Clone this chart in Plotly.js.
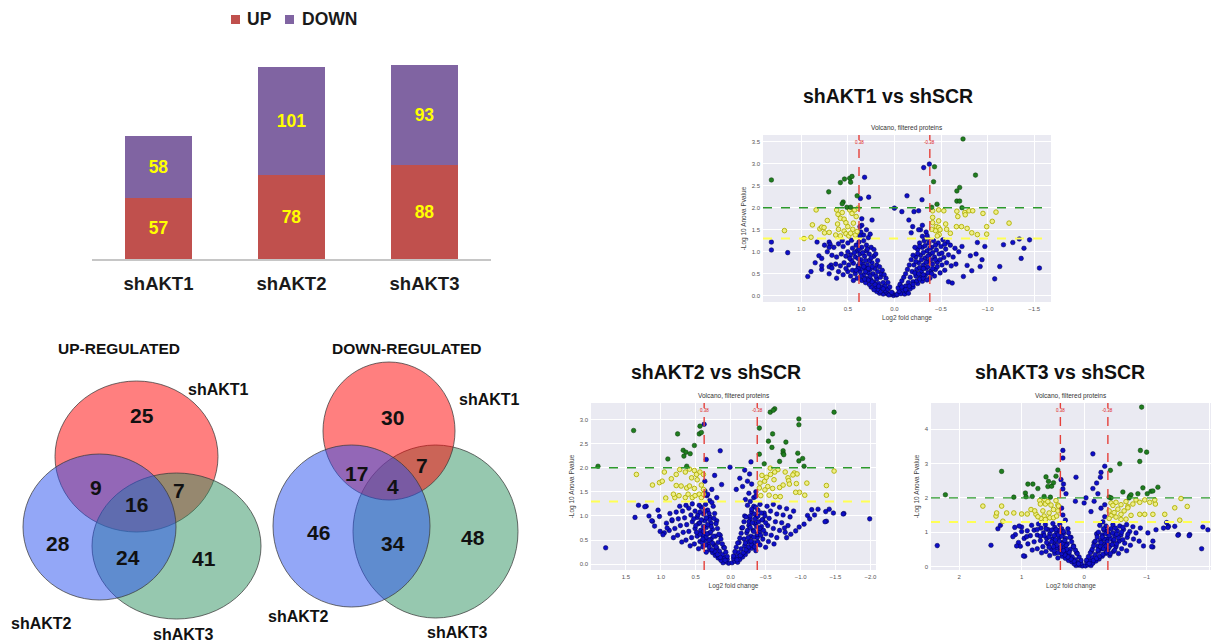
<!DOCTYPE html>
<html><head><meta charset="utf-8">
<script src="https://cdn.plot.ly/plotly-3.0.1.min.js"></script>
<style>html,body{margin:0;padding:0;background:#fff;overflow:hidden}#chart{width:1211px;height:644px}</style>
</head><body><div id="chart"></div>
<script>
// ================= DATA =================
// Stacked bar chart
const barCategories = ['shAKT1','shAKT2','shAKT3'];
const seriesNames = ['UP','DOWN'];
const upCounts = [57,78,88];
const downCounts = [58,101,93];

// Venn diagrams (regions: only1, only2, only3, 1&2, 1&3, 2&3, 1&2&3)
const vennTitles = ['UP-REGULATED','DOWN-REGULATED'];
const vennSetNames = ['shAKT1','shAKT2','shAKT3'];
const upVennCounts = [25,28,41,9,7,24,16];
const downVennCounts = [30,46,48,17,7,34,4];

// Volcano plots
const volcanoHeads = ['shAKT1 vs shSCR','shAKT2 vs shSCR','shAKT3 vs shSCR'];
const volcanoTitle = 'Volcano, filtered proteins';
const volcanoXTitle = 'Log2 fold change';
const volcanoYTitle = '-Log 10 Anova Pvalue';
const fcCutoffs = [0.38,-0.38];
const fcCutoffLabels = ['0.38','-0.38'];
const pGreen = 2.0;
const pYellow = 1.3;

const v1Green = [[1.32,2.63],[0.705,2.36],[0.58,2.57],[0.536,2.65],[0.48,2.67],[0.455,2.71],[0.47,2.58],[0.55,2.13],[0.56,2.09],[0.51,2.01],[0.40,2.27],[0.47,2.01],
 [-0.736,3.56],[-0.43,2.93],[-0.42,2.59],[-0.87,2.74],[-0.70,2.46],[-0.67,2.38],[-0.67,2.15],[-0.70,2.15],[-0.457,2.08],[-0.40,2.01],[-0.725,2.0]];
const v1Yellow = [[1.18,1.48],[0.97,1.30],[0.895,1.33],[0.88,1.61],[0.84,1.95],[0.80,1.52],[0.78,1.56],[0.755,1.55],[0.72,1.71],[0.75,1.43],[0.70,1.44],[0.62,1.95],[0.605,1.85],[0.58,1.76],[0.61,1.63],[0.60,1.51],[0.63,1.38],[0.56,1.89],[0.54,1.74],[0.52,1.66],[0.50,1.57],[0.48,1.95],[0.455,1.87],[0.426,1.95],[0.41,1.80],[0.39,1.99],[0.44,1.65],[0.447,1.51],[0.54,1.47],[0.52,1.41],[0.49,1.36],[0.47,1.42],[0.42,1.38],[0.40,1.46],[0.58,1.36],
 [-0.475,1.95],[-0.41,1.93],[-0.53,1.93],[-0.67,1.92],[-0.755,1.89],[-0.80,1.93],[-0.84,1.93],[-0.95,1.87],[-1.09,1.90],[-0.68,1.80],[-0.76,1.84],[-0.41,1.78],[-0.475,1.70],[-0.41,1.66],[-0.55,1.63],[-0.45,1.57],[-0.475,1.55],[-0.49,1.50],[-0.44,1.48],[-0.40,1.51],[-0.56,1.51],[-0.60,1.42],[-0.48,1.39],[-0.46,1.36],[-0.665,1.57],[-0.72,1.57],[-0.78,1.53],[-0.83,1.43],[-0.89,1.39],[-0.99,1.57],[-0.99,1.40],[-1.05,1.69],[-1.23,1.65]];
const v1Blue = [[0.01,0.01],[0.04,0.03],[0.08,0.05],[0.12,0.04],[0.02,0.06],[0.06,0.02],[0.03,0.08],[0.09,0.09],[0.16,0.06],[0.19,0.10],[0.10,0.12],[0.15,0.10],[0.18,0.15],[0.14,0.20],[0.22,0.14],[0.07,0.15],[0.25,0.20],[0.20,0.22],
 [0.12,0.30],[0.17,0.28],[0.22,0.30],[0.27,0.26],[0.31,0.30],[0.35,0.35],[0.19,0.38],[0.25,0.36],[0.30,0.40],[0.15,0.42],[0.40,0.40],[0.44,0.35],
 [0.14,0.50],[0.18,0.55],[0.23,0.50],[0.28,0.52],[0.33,0.48],[0.37,0.55],[0.42,0.50],[0.47,0.45],[0.50,0.55],[0.55,0.48],[0.26,0.60],[0.31,0.62],[0.21,0.62],[0.60,0.55],
 [0.19,0.70],[0.24,0.75],[0.29,0.70],[0.34,0.72],[0.39,0.68],[0.44,0.74],[0.49,0.70],[0.54,0.75],[0.58,0.68],[0.63,0.72],[0.68,0.70],[0.27,0.80],[0.36,0.82],[0.46,0.80],
 [0.22,0.90],[0.27,0.95],[0.32,0.90],[0.37,0.95],[0.42,0.88],[0.47,0.93],[0.52,0.90],[0.57,0.95],[0.62,0.88],[0.67,0.92],[0.72,1.00],[0.30,1.02],[0.40,1.02],[0.50,1.00],
 [0.25,1.10],[0.30,1.15],[0.35,1.10],[0.41,1.15],[0.45,1.08],[0.50,1.20],[0.55,1.12],[0.60,1.18],[0.65,1.10],[0.70,1.22],[0.75,1.15],[0.38,1.22],[0.33,1.25],[0.46,1.26],[0.56,1.25],
 [0.28,1.32],[0.33,1.38],[0.36,1.45],[0.30,1.50],[0.35,1.60],[0.26,1.40],[0.37,1.35],[0.62,0.40],[0.70,0.50],[0.78,0.60],[0.85,0.75],
 [-0.02,0.02],[-0.03,0.03],[-0.07,0.05],[-0.11,0.04],[-0.05,0.10],[-0.09,0.14],[-0.13,0.10],[-0.17,0.16],[-0.12,0.22],[-0.20,0.20],[-0.15,0.06],[-0.15,0.30],[-0.20,0.32],[-0.25,0.28],[-0.30,0.33],[-0.17,0.42],[-0.23,0.45],[-0.28,0.42],[-0.33,0.46],[-0.38,0.40],[-0.43,0.45],
 [-0.19,0.55],[-0.24,0.60],[-0.29,0.55],[-0.34,0.62],[-0.39,0.56],[-0.44,0.60],[-0.49,0.52],[-0.54,0.58],[-0.21,0.70],[-0.26,0.75],[-0.31,0.70],[-0.36,0.78],[-0.41,0.72],[-0.46,0.76],[-0.51,0.70],[-0.56,0.75],[-0.61,0.68],[-0.66,0.72],
 [-0.23,0.88],[-0.28,0.92],[-0.33,0.86],[-0.38,0.94],[-0.43,0.88],[-0.48,0.95],[-0.53,0.87],[-0.58,0.93],[-0.63,0.88],[-0.25,1.05],[-0.30,1.10],[-0.35,1.02],[-0.40,1.10],[-0.45,1.04],[-0.50,1.12],[-0.55,1.06],[-0.60,1.15],[-0.65,1.08],
 [-0.27,1.20],[-0.32,1.25],[-0.37,1.20],[-0.42,1.25],[-0.47,1.20],[-0.52,1.27],[-0.57,1.22],[-0.30,1.35],[-0.34,1.45],[-0.36,1.30],[-0.28,1.50],
 [1.32,1.22],[1.32,1.04],[1.145,0.98],[0.93,0.44],[0.895,0.55],[0.81,0.91],[0.78,0.85],[0.83,1.22],[0.69,1.17],[0.70,1.10],[0.78,0.68],[0.70,0.66],[0.67,0.63],
 [-1.556,0.63],[-1.076,0.385],[-1.13,0.665],[-1.17,1.16],[-1.27,1.21],[-1.34,1.29],[-1.39,1.08],[-1.36,0.85],[-1.45,1.27],[-0.97,1.12],[-0.94,0.82],[-0.92,0.665],[-0.876,0.95],[-0.815,0.91],[-0.83,0.57],[-0.78,0.69],[-0.74,0.44],[-0.62,0.29],[-0.58,0.32],[-0.89,1.21],[-0.725,1.12],[-0.69,1.0],
 [0.32,2.69],[0.276,2.24],[0.365,2.21],[-0.314,2.91],[-0.375,2.99],[-0.135,2.27],[-0.296,2.18],[-0.26,1.93],[-0.21,1.91],[-0.155,1.72],[-0.08,1.91],[-0.196,1.57],[-0.30,1.60],[-0.26,1.50],[-0.18,1.43],[-0.35,1.37],[0.0,1.99],[0.35,1.75],[0.24,1.72],[0.37,1.57]];
const v1BlueCore = [[0.05,0.20],[0.07,0.30],[0.09,0.40],[0.11,0.48],[0.13,0.58],[0.16,0.66],[0.18,0.80],[0.20,0.95],[0.22,1.05],[0.10,0.22],[0.12,0.16],[0.17,0.22],[0.21,0.26],[0.24,0.32],[0.28,0.36],[0.32,0.38],[0.36,0.45],[0.20,0.45],[0.26,0.45],[0.31,0.55],[0.35,0.62],[0.39,0.62],[0.24,0.66],[0.28,0.62],[0.33,0.66],[0.37,0.75],[0.31,0.80],[0.25,0.86],[0.34,0.98],[0.39,0.85],[0.29,1.06],[0.38,1.06],[0.43,0.98],[0.48,0.85],[0.52,0.62],[0.45,0.58],[0.41,0.58],
 [-0.04,0.18],[-0.06,0.26],[-0.08,0.34],[-0.10,0.42],[-0.12,0.50],[-0.14,0.60],[-0.16,0.70],[-0.18,0.82],[-0.20,0.92],[-0.22,1.10],[-0.08,0.20],[-0.12,0.14],[-0.16,0.22],[-0.20,0.26],[-0.24,0.34],[-0.27,0.38],[-0.31,0.40],[-0.35,0.36],[-0.22,0.52],[-0.26,0.50],[-0.31,0.48],[-0.36,0.52],[-0.40,0.50],[-0.27,0.64],[-0.31,0.62],[-0.36,0.66],[-0.41,0.62],[-0.46,0.66],[-0.23,0.78],[-0.29,0.82],[-0.34,0.76],[-0.39,0.82],[-0.44,0.82],[-0.49,0.82],[-0.25,0.96],[-0.31,0.98],[-0.36,0.90],[-0.41,0.98],[-0.51,0.97],[-0.27,1.12],[-0.33,1.14],[-0.38,1.08],[-0.44,1.15],[-0.54,1.17]];

const v2Green = [[1.90,2.03],[1.39,2.77],[0.76,2.70],[0.90,2.18],[0.68,2.36],[0.64,2.32],[0.58,2.29],[0.67,2.24],[0.52,2.46],[0.45,2.70],[0.42,2.73],[0.44,2.86],[0.63,2.03],
 [-0.566,3.15],[-0.63,3.22],[-0.61,3.19],[-0.41,2.82],[-0.60,2.70],[-0.54,2.55],[-0.59,2.42],[-0.79,2.53],[-0.976,3.01],[-0.976,2.89],[-1.48,3.15],[-0.75,2.35],[-0.75,2.30],[-0.76,2.27],[-0.96,2.30],[-0.976,2.14],[-1.03,2.19],[-1.05,2.03],[-0.70,2.13],[-0.48,2.08],[-0.41,2.28]];
const v2Yellow = [[1.35,1.86],[0.95,1.91],[0.85,1.77],[0.78,1.86],[0.73,1.96],[0.65,1.91],[0.59,1.97],[0.52,1.94],[0.49,1.86],[0.44,1.91],[0.39,1.86],[0.56,1.79],[0.48,1.75],[0.78,1.63],[0.71,1.62],[0.63,1.58],[0.59,1.62],[0.52,1.57],[0.42,1.64],[0.39,1.55],[0.93,1.37],[0.80,1.38],[0.74,1.42],[0.65,1.38],[0.61,1.45],[0.55,1.38],[0.51,1.42],[0.45,1.45],[0.42,1.38],[0.39,1.45],[0.82,1.45],[1.12,1.64],[1.02,1.69],[0.98,1.72],
 [-0.447,1.84],[-0.566,1.99],[-0.676,1.96],[-0.78,1.91],[-0.91,1.89],[-0.95,1.87],[-0.82,1.79],[-0.83,1.73],[-0.94,1.67],[-1.09,1.68],[-0.985,1.49],[-1.06,1.43],[-0.93,1.49],[-1.37,1.63],[-1.37,1.43],[-1.48,1.93],[-0.486,1.72],[-0.53,1.61],[-0.60,1.57],[-0.62,1.75],[-0.70,1.59],[-0.75,1.64],[-0.49,1.54],[-0.55,1.43],[-0.43,1.42],[-0.64,1.40],[-0.71,1.40],[-0.41,1.58],[-0.51,1.80],[-0.57,1.86],[-0.63,1.91],[-0.42,1.68],[-0.84,1.66],[-0.89,1.85]];
const v2Blue = [[0.03,0.02],[0.07,0.05],[0.11,0.03],[0.05,0.10],[0.09,0.14],[0.14,0.08],[0.18,0.13],[0.12,0.20],[0.22,0.18],[0.16,0.27],[0.26,0.24],[0.20,0.33],[0.30,0.30],[0.35,0.25],[0.24,0.40],[0.32,0.42],[0.40,0.36],[0.46,0.32],
 [0.18,0.45],[0.28,0.52],[0.37,0.50],[0.44,0.47],[0.52,0.42],[0.58,0.38],[0.22,0.58],[0.31,0.64],[0.40,0.60],[0.48,0.58],[0.56,0.55],[0.64,0.50],[0.70,0.46],
 [0.26,0.72],[0.35,0.76],[0.43,0.70],[0.51,0.74],[0.60,0.68],[0.68,0.66],[0.76,0.60],[0.82,0.55],[0.28,0.85],[0.37,0.90],[0.46,0.84],[0.55,0.88],[0.63,0.82],[0.72,0.80],[0.80,0.74],[0.88,0.70],
 [0.30,0.98],[0.39,1.04],[0.48,0.97],[0.57,1.02],[0.66,0.96],[0.75,0.94],[0.84,0.90],[0.92,0.85],[0.33,1.12],[0.42,1.18],[0.51,1.10],[0.60,1.16],[0.69,1.10],[0.78,1.08],[0.87,1.05],
 [0.36,1.24],[0.45,1.22],[0.55,1.25],[0.64,1.22],[0.73,1.20],[0.30,1.32],[0.34,1.42],[0.27,1.28],[0.37,1.52],[0.25,1.20],[0.20,0.90],[0.23,1.05],[0.15,0.60],[0.10,0.35],
 [-0.02,0.03],[-0.06,0.06],[-0.10,0.04],[-0.04,0.12],[-0.08,0.16],[-0.13,0.10],[-0.17,0.15],[-0.11,0.24],[-0.21,0.20],[-0.15,0.32],[-0.25,0.27],[-0.20,0.38],[-0.30,0.33],[-0.36,0.28],[-0.25,0.46],[-0.34,0.45],[-0.42,0.40],[-0.50,0.35],
 [-0.19,0.52],[-0.29,0.58],[-0.38,0.55],[-0.46,0.52],[-0.54,0.47],[-0.62,0.42],[-0.23,0.65],[-0.32,0.70],[-0.41,0.66],[-0.50,0.63],[-0.58,0.60],[-0.66,0.55],
 [-0.26,0.80],[-0.35,0.84],[-0.44,0.78],[-0.53,0.80],[-0.61,0.74],[-0.70,0.70],[-0.78,0.66],[-0.28,0.94],[-0.37,0.98],[-0.46,0.92],[-0.55,0.95],[-0.64,0.88],[-0.73,0.86],[-0.82,0.80],
 [-0.30,1.08],[-0.39,1.12],[-0.48,1.06],[-0.57,1.10],[-0.66,1.04],[-0.75,1.02],[-0.85,0.98],[-0.33,1.20],[-0.42,1.24],[-0.52,1.20],[-0.61,1.24],[-0.70,1.18],[-0.80,1.15],[-0.90,1.10],
 [-0.28,1.30],[-0.33,1.38],[-0.36,1.50],[-0.24,1.22],[-0.20,1.00],[-0.16,0.75],[-0.12,0.45],
 [1.79,0.34],[1.37,0.97],[1.32,1.22],[1.21,1.20],[1.12,0.89],[1.09,0.79],[0.95,0.65],[1.02,0.99],[0.91,0.75],[0.84,0.92],[1.17,1.0],[1.13,0.90],[1.01,0.68],[0.97,0.61],[1.04,1.12],[1.23,1.19],
 [-1.99,0.94],[-1.62,1.05],[-1.37,0.89],[-1.25,1.14],[-1.16,1.13],[-1.10,1.01],[-1.05,0.83],[-0.98,0.77],[-0.93,0.69],[-0.86,0.62],[-0.80,0.55],[-0.77,0.75],[-1.13,0.94],[-1.20,1.02],[-1.41,1.14],[-1.47,1.06],[-1.36,1.09],[-1.35,0.88],[-1.61,1.04],
 [0.38,2.90],[0.15,2.35],[0.35,2.17],[0.01,2.01],[-0.29,2.12],[-0.27,1.87],[-0.20,1.95],[-0.13,1.78],[-0.24,1.72],[-0.17,1.61],[-0.30,1.66],[-0.08,1.55],[-0.26,1.47],[-0.36,1.41],[-0.21,1.34],[0.23,1.84],[0.13,1.65],[0.27,1.55],[0.20,1.38],[0.33,1.45],[0.37,1.72]];
const v2BlueCore = [[0.05,0.16],[0.07,0.25],[0.09,0.34],[0.12,0.42],[0.14,0.52],[0.17,0.62],[0.19,0.74],[0.21,0.84],[0.24,0.95],[0.08,0.08],[0.15,0.14],[0.19,0.20],[0.23,0.27],[0.27,0.30],[0.31,0.36],[0.36,0.40],[0.41,0.45],[0.21,0.36],[0.26,0.44],[0.31,0.50],[0.35,0.56],[0.40,0.52],[0.25,0.58],[0.29,0.66],[0.34,0.63],[0.39,0.68],[0.44,0.62],[0.49,0.66],[0.28,0.78],[0.33,0.82],[0.39,0.78],[0.44,0.86],[0.50,0.80],[0.30,0.92],[0.35,0.96],[0.42,0.92],[0.47,1.02],[0.53,0.94],[0.31,1.05],[0.37,1.10],[0.44,1.08],
 [-0.04,0.17],[-0.06,0.26],[-0.08,0.35],[-0.10,0.44],[-0.13,0.54],[-0.15,0.64],[-0.17,0.76],[-0.19,0.88],[-0.22,0.98],[-0.09,0.09],[-0.14,0.18],[-0.18,0.24],[-0.22,0.30],[-0.26,0.36],[-0.30,0.40],[-0.34,0.36],[-0.39,0.46],[-0.21,0.44],[-0.25,0.55],[-0.29,0.48],[-0.33,0.56],[-0.38,0.62],[-0.43,0.60],[-0.24,0.70],[-0.28,0.76],[-0.33,0.68],[-0.37,0.78],[-0.42,0.74],[-0.47,0.70],[-0.26,0.88],[-0.31,0.86],[-0.35,0.94],[-0.40,0.88],[-0.45,0.92],[-0.50,0.86],[-0.28,1.00],[-0.34,1.04],[-0.39,1.00],[-0.44,1.06],[-0.49,1.00],[-0.30,1.14],[-0.36,1.18]];

const v3Green = [[2.22,2.09],[1.32,2.77],[1.125,2.02],[0.94,2.14],[0.93,2.03],[0.90,2.40],[0.82,2.40],[0.83,2.04],[0.74,2.27],[0.61,2.61],[0.57,2.48],[0.58,2.33],[0.52,2.34],[0.49,2.44],[0.45,2.63],[0.42,2.81],[0.64,2.04],[0.54,2.02],
 [-0.92,4.64],[-0.90,3.38],[-1.00,3.33],[-0.89,3.06],[-0.57,2.99],[-0.42,2.80],[-0.62,2.17],[-0.73,2.05],[-0.75,2.09],[-0.86,2.12],[-0.94,2.29],[-1.01,2.12],[-1.07,2.19],[-1.10,2.20],[-1.18,2.31],[-0.43,2.0],[-0.40,2.02],[-0.72,2.0]];
const v3Yellow = [[1.62,1.76],[1.41,1.47],[1.40,1.56],[1.32,1.76],[1.24,1.56],[1.125,1.56],[1.0,1.53],[0.91,1.53],[1.30,1.32],[0.85,1.66],[0.77,1.52],[0.79,1.62],[0.71,1.92],[0.70,1.82],[0.63,1.95],[0.62,1.82],[0.58,1.89],[0.53,1.79],[0.45,1.92],[0.42,1.79],[0.49,1.66],[0.56,1.56],[0.64,1.47],[0.69,1.40],[0.62,1.37],[0.55,1.42],[0.49,1.42],[0.44,1.47],[0.42,1.62],[0.74,1.45],[0.66,1.62],[0.41,1.76],
 [-0.43,1.85],[-0.51,1.87],[-0.59,1.80],[-0.67,1.89],[-0.70,1.75],[-0.78,1.82],[-0.83,1.94],[-0.89,1.87],[-0.97,1.94],[-1.05,1.87],[-1.14,1.82],[-1.13,1.94],[-1.55,1.98],[-1.45,1.71],[-1.65,1.75],[-1.53,1.35],[-1.29,1.52],[-1.10,1.52],[-0.97,1.52],[-0.89,1.52],[-0.40,1.62],[-0.43,1.48],[-0.48,1.57],[-0.54,1.67],[-0.59,1.52],[-0.64,1.62],[-0.70,1.71],[-0.51,1.44],[-0.40,1.40],[-0.59,1.37],[-0.67,1.38],[-0.75,1.49],[-0.46,1.78]];
const v3Blue = [[0.03,0.02],[0.08,0.04],[0.13,0.03],[0.05,0.10],[0.10,0.12],[0.16,0.08],[0.20,0.14],[0.14,0.20],[0.25,0.18],[0.19,0.28],[0.30,0.24],[0.24,0.35],[0.35,0.30],[0.42,0.25],[0.29,0.42],[0.38,0.45],[0.47,0.38],[0.55,0.32],
 [0.22,0.50],[0.33,0.55],[0.43,0.54],[0.52,0.50],[0.61,0.44],[0.68,0.40],[0.27,0.66],[0.37,0.70],[0.47,0.66],[0.57,0.64],[0.66,0.58],[0.75,0.52],[0.83,0.48],
 [0.30,0.82],[0.40,0.86],[0.50,0.80],[0.60,0.82],[0.70,0.76],[0.80,0.72],[0.90,0.66],[0.33,0.96],[0.44,1.00],[0.55,0.95],[0.65,0.98],[0.75,0.92],[0.86,0.90],[0.96,0.82],
 [0.36,1.10],[0.47,1.14],[0.58,1.08],[0.69,1.12],[0.80,1.06],[0.91,1.04],[0.39,1.22],[0.50,1.25],[0.62,1.22],[0.73,1.24],[0.84,1.20],[1.00,1.15],
 [0.30,1.35],[0.34,1.50],[0.36,1.70],[0.26,1.10],[0.21,0.85],[0.17,0.60],[0.12,0.40],[1.05,0.70],
 [-0.02,0.02],[-0.06,0.05],[-0.11,0.03],[-0.04,0.13],[-0.09,0.16],[-0.14,0.10],[-0.19,0.16],[-0.13,0.26],[-0.24,0.22],[-0.18,0.35],[-0.29,0.30],[-0.23,0.44],[-0.34,0.38],[-0.41,0.32],[-0.28,0.52],[-0.38,0.50],[-0.47,0.44],[-0.55,0.38],
 [-0.22,0.60],[-0.32,0.66],[-0.42,0.62],[-0.51,0.58],[-0.60,0.52],[-0.68,0.46],[-0.26,0.76],[-0.36,0.80],[-0.46,0.75],[-0.56,0.74],[-0.65,0.68],[-0.74,0.62],
 [-0.29,0.92],[-0.39,0.96],[-0.49,0.90],[-0.59,0.92],[-0.69,0.85],[-0.79,0.80],[-0.88,0.74],[-0.32,1.06],[-0.43,1.10],[-0.53,1.04],[-0.63,1.08],[-0.73,1.02],[-0.83,0.98],
 [-0.35,1.18],[-0.46,1.22],[-0.57,1.18],[-0.68,1.22],[-0.78,1.16],[-0.90,1.12],[-0.30,1.30],[-0.33,1.45],[-0.25,1.20],[-0.20,0.95],[-0.16,0.70],[-0.12,0.45],[-0.95,0.60],
 [2.35,0.61],[1.49,0.62],[1.38,1.10],[1.34,1.20],[1.11,1.14],[0.95,0.30],[1.02,0.59],[1.10,0.93],[1.08,0.60],[0.97,0.31],[1.14,0.87],[1.0,1.02],[0.92,0.87],[1.04,1.18],
 [-1.90,1.15],[-1.88,0.52],[-1.98,1.07],[-1.69,0.93],[-1.51,0.93],[-1.35,1.17],[-1.27,1.12],[-1.45,1.17],[-1.10,0.57],[-1.10,0.74],[-1.02,0.98],[-1.15,1.07],[-1.68,0.90],[-1.50,0.91],[-1.32,1.28],[-1.34,1.14],[-1.08,0.58],
 [0.34,3.38],[0.34,3.16],[0.37,2.53],[0.33,2.40],[0.34,2.26],[0.29,2.12],[-0.14,3.28],[0.13,2.60],[-0.33,2.92],[-0.27,2.74],[-0.26,2.60],[-0.20,2.43],[-0.14,2.27],[-0.22,2.12],[-0.03,2.0],[-0.16,1.90],[0.0,1.85],[0.14,1.90],[-0.27,1.70],[-0.11,1.60],[-0.33,1.80]];
const v3BlueCore = [[0.05,0.18],[0.08,0.28],[0.11,0.38],[0.14,0.48],[0.17,0.58],[0.20,0.72],[0.23,0.85],[0.25,0.98],[0.09,0.08],[0.16,0.16],[0.21,0.22],[0.26,0.28],[0.31,0.34],[0.36,0.38],[0.42,0.40],[0.48,0.46],[0.24,0.42],[0.28,0.50],[0.33,0.46],[0.38,0.56],[0.44,0.62],[0.49,0.58],[0.56,0.56],[0.29,0.62],[0.34,0.68],[0.40,0.74],[0.46,0.78],[0.52,0.72],[0.60,0.70],[0.31,0.76],[0.36,0.88],[0.42,0.92],[0.48,0.90],[0.56,0.86],[0.64,0.90],[0.70,0.88],[0.33,1.02],[0.39,1.06],[0.45,1.08],[0.52,1.06],[0.61,1.10],[0.75,1.08],
 [-0.04,0.19],[-0.07,0.29],[-0.10,0.40],[-0.13,0.50],[-0.15,0.60],[-0.18,0.74],[-0.21,0.86],[-0.23,1.00],[-0.08,0.09],[-0.15,0.18],[-0.20,0.24],[-0.25,0.30],[-0.30,0.36],[-0.36,0.42],[-0.42,0.38],[-0.49,0.48],[-0.22,0.48],[-0.26,0.58],[-0.31,0.52],[-0.35,0.60],[-0.40,0.56],[-0.45,0.64],[-0.52,0.66],[-0.27,0.70],[-0.32,0.80],[-0.37,0.72],[-0.42,0.82],[-0.48,0.78],[-0.55,0.84],[-0.62,0.78],[-0.29,0.86],[-0.35,0.96],[-0.40,0.90],[-0.46,0.98],[-0.52,0.94],[-0.60,1.00],[-0.70,0.94],[-0.31,1.10],[-0.38,1.04],[-0.50,1.12],[-0.62,1.14]];

// ================= LAYOUT GEOMETRY (pixels) =================
const W = 1211, H = 644;
const FONT = '"Liberation Sans", Arial, sans-serif';
const px = x => x / W;
const py = y => 1 - y / H;

const barBox = {x0:92, x1:491, y0:64, y1:259, ymax:181.7};
const legendBoxes = [{x0:231,x1:240,y0:15,y1:24,tx:245},{x0:285,x1:294,y0:15,y1:24,tx:300}];
const barColors = ['#c0504d','#8064a2'];

const vennGeom = [
  { title:[119,348],
    circles:[{cx:136.5,cy:456.5,rx:81.5,ry:75.5,c:0},{cx:176.5,cy:546,rx:84.5,ry:73,c:2},{cx:99.5,cy:527,rx:76.5,ry:73,c:1}],
    regions:[[142,415],[58,543],[204,558],[96,487],[179,490],[128,557],[136,504]],
    names:[[218,389],[42,623],[183,634]] },
  { title:[407,348],
    circles:[{cx:435.5,cy:531.5,rx:82.5,ry:86.5,c:2},{cx:389,cy:431,rx:66,ry:69,c:0},{cx:351.5,cy:526,rx:78.5,ry:81,c:1}],
    regions:[[393,417],[318,532],[473,537],[356,473],[422,465],[393,543],[393,486]],
    names:[[489,399],[298,616],[457,632]] }
];
const vennFills = ['rgba(255,0,0,0.5)','rgba(40,80,240,0.5)','rgba(45,145,95,0.5)'];

const volcanoBoxes = [
  {x0:763,x1:1051,y0:135,y1:302,xr:[1.41,-1.68],yr:[-0.14,3.65],xt:[1,0.5,0,-0.5,-1,-1.5],yt:[0,0.5,1,1.5,2,2.5,3,3.5],fmt:'.1f',head:[888,96]},
  {x0:591,x1:876,y0:403,y1:570,xr:[2.0,-2.08],yr:[-0.12,3.34],xt:[1.5,1,0.5,0,-0.5,-1,-1.5,-2],yt:[0,0.5,1,1.5,2,2.5,3],fmt:'.1f',head:[716,372]},
  {x0:931,x1:1211,y0:403,y1:570,xr:[2.45,-2.03],yr:[-0.1,4.76],xt:[2,1,0,-1,-2],yt:[0,1,2,3,4],fmt:'d',head:[1060,372]}
];
const volcanoSets = [
  {blue:v1Blue.concat(v1BlueCore), yellow:v1Yellow, green:v1Green},
  {blue:v2Blue.concat(v2BlueCore), yellow:v2Yellow, green:v2Green},
  {blue:v3Blue.concat(v3BlueCore), yellow:v3Yellow, green:v3Green}
];

// ================= BUILD =================
const traces = [];
const shapes = [];
const annotations = [];
const layout = {
  width:W, height:H, margin:{l:0,r:0,t:0,b:0},
  paper_bgcolor:'#ffffff', plot_bgcolor:'rgba(0,0,0,0)',
  showlegend:false, hovermode:false, barmode:'stack',
  font:{family:FONT, color:'#000'}
};

// --- bar chart
[upCounts, downCounts].forEach((vals, i) => {
  traces.push({
    type:'bar', name:seriesNames[i], x:barCategories, y:vals,
    xaxis:'x', yaxis:'y', width:0.51,
    marker:{color:barColors[i], line:{width:0}},
    text:vals.map(String), textposition:'inside', insidetextanchor:'middle',
    textangle:0, constraintext:'none',
    textfont:{family:FONT, size:17.5, color:'#ffff00', weight:'bold'}
  });
});
layout.xaxis = {domain:[px(barBox.x0), px(barBox.x1)], range:[-0.5,2.5], anchor:'y',
  showline:true, linecolor:'#c6c6c6', linewidth:1.5, ticks:'', showgrid:false, zeroline:false,
  tickfont:{family:FONT, size:18.5, color:'#1a1a1a', weight:'bold'}, ticklabelstandoff:7, fixedrange:true};
layout.yaxis = {domain:[py(barBox.y1), py(barBox.y0)], range:[0, barBox.ymax], anchor:'x', visible:false, fixedrange:true};

// legend
seriesNames.forEach((nm, i) => {
  const b = legendBoxes[i];
  shapes.push({type:'rect', xref:'paper', yref:'paper', x0:px(b.x0), x1:px(b.x1), y0:py(b.y1), y1:py(b.y0),
    fillcolor:barColors[i], line:{width:0}});
  annotations.push({xref:'paper', yref:'paper', x:px(b.tx), y:py((b.y0+b.y1)/2), xanchor:'left', yanchor:'middle',
    text:nm, showarrow:false, font:{family:FONT, size:17.5, weight:'bold', color:'#1a1a1a'}});
});

// --- Venn diagrams
[upVennCounts, downVennCounts].forEach((counts, vi) => {
  const g = vennGeom[vi];
  g.circles.forEach(c => {
    shapes.push({type:'circle', xref:'paper', yref:'paper',
      x0:px(c.cx-c.rx), x1:px(c.cx+c.rx), y0:py(c.cy+c.ry), y1:py(c.cy-c.ry),
      fillcolor:vennFills[c.c], line:{color:'rgba(60,60,60,0.75)', width:1}});
  });
  counts.forEach((n, k) => {
    annotations.push({xref:'paper', yref:'paper', x:px(g.regions[k][0]), y:py(g.regions[k][1]),
      xanchor:'center', yanchor:'middle', showarrow:false, text:String(n),
      font:{family:FONT, size:21, weight:'bold', color:'#111'}});
  });
  vennSetNames.forEach((nm, k) => {
    annotations.push({xref:'paper', yref:'paper', x:px(g.names[k][0]), y:py(g.names[k][1]),
      xanchor:'center', yanchor:'middle', showarrow:false, text:nm,
      font:{family:FONT, size:16, weight:'bold', color:'#111'}});
  });
  annotations.push({xref:'paper', yref:'paper', x:px(g.title[0]), y:py(g.title[1]),
    xanchor:'center', yanchor:'middle', showarrow:false, text:vennTitles[vi],
    font:{family:FONT, size:15.5, weight:'bold', color:'#111'}});
});

// --- Volcano plots
volcanoBoxes.forEach((b, i) => {
  const n = i + 2, xa = 'x'+n, ya = 'y'+n;
  const set = volcanoSets[i];
  const tickFont = {family:FONT, size:6, color:'#555'};
  layout['xaxis'+n] = {domain:[px(b.x0), px(b.x1)], range:b.xr, anchor:ya, tickvals:b.xt, tickformat:b.fmt,
    showgrid:true, gridcolor:'#ffffff', gridwidth:1, zeroline:false, showline:false, ticks:'',
    tickfont:tickFont, ticklabelstandoff:2, fixedrange:true,
    title:{text:volcanoXTitle, font:{family:FONT, size:6.5, color:'#444'}, standoff:4}};
  layout['yaxis'+n] = {domain:[py(b.y1), py(b.y0)], range:b.yr, anchor:xa, tickvals:b.yt, tickformat:b.fmt,
    showgrid:true, gridcolor:'#ffffff', gridwidth:1, zeroline:false, showline:false, ticks:'',
    tickfont:tickFont, ticklabelstandoff:2, fixedrange:true,
    title:{text:volcanoYTitle, font:{family:FONT, size:6.5, color:'#444'}, standoff:4}};
  shapes.push({type:'rect', xref:xa+' domain', yref:ya+' domain', x0:0, x1:1, y0:0, y1:1,
    fillcolor:'#eaeaf2', line:{width:0}, layer:'below'});

  traces.push({type:'scatter', mode:'markers', xaxis:xa, yaxis:ya,
    x:set.blue.map(p=>p[0]), y:set.blue.map(p=>p[1]),
    marker:{size:4.6, color:'#0e0ec8', line:{width:0.5, color:'#00004a'}}});
  traces.push({type:'scatter', mode:'markers', xaxis:xa, yaxis:ya,
    x:set.yellow.map(p=>p[0]), y:set.yellow.map(p=>p[1]),
    marker:{size:4.6, color:'#eeee88', line:{width:0.9, color:'#b0b000'}}});
  traces.push({type:'scatter', mode:'markers', xaxis:xa, yaxis:ya,
    x:set.green.map(p=>p[0]), y:set.green.map(p=>p[1]),
    marker:{size:4.6, color:'#1f7d1f', line:{width:0.5, color:'#0b3b0b'}}});

  shapes.push({type:'line', xref:xa+' domain', yref:ya, x0:0, x1:1, y0:pYellow, y1:pYellow,
    line:{color:'#ffff55', width:2, dash:'dash'}});
  shapes.push({type:'line', xref:xa+' domain', yref:ya, x0:0, x1:1, y0:pGreen, y1:pGreen,
    line:{color:'#2c9a2c', width:1.4, dash:'dash'}});
  fcCutoffs.forEach((c, k) => {
    shapes.push({type:'line', xref:xa, yref:ya+' domain', x0:c, x1:c, y0:0, y1:1,
      line:{color:'#e5403a', width:1.4, dash:'dash'}});
    annotations.push({xref:xa, yref:ya+' domain', x:c, y:0.955, showarrow:false, text:fcCutoffLabels[k],
      xanchor:'center', yanchor:'middle', font:{family:FONT, size:4.5, color:'#e02020'}});
  });
  annotations.push({xref:xa+' domain', yref:ya+' domain', x:0.5, y:1, yanchor:'bottom', yshift:1, showarrow:false,
    text:volcanoTitle, font:{family:FONT, size:6.5, color:'#333'}});
  annotations.push({xref:'paper', yref:'paper', x:px(b.head[0]), y:py(b.head[1]), xanchor:'center', yanchor:'middle',
    showarrow:false, text:volcanoHeads[i], font:{family:FONT, size:19.5, weight:'bold', color:'#111'}});
});

layout.shapes = shapes;
layout.annotations = annotations;

Plotly.newPlot('chart', traces, layout, {displayModeBar:false, staticPlot:true});
</script>
</body></html>
